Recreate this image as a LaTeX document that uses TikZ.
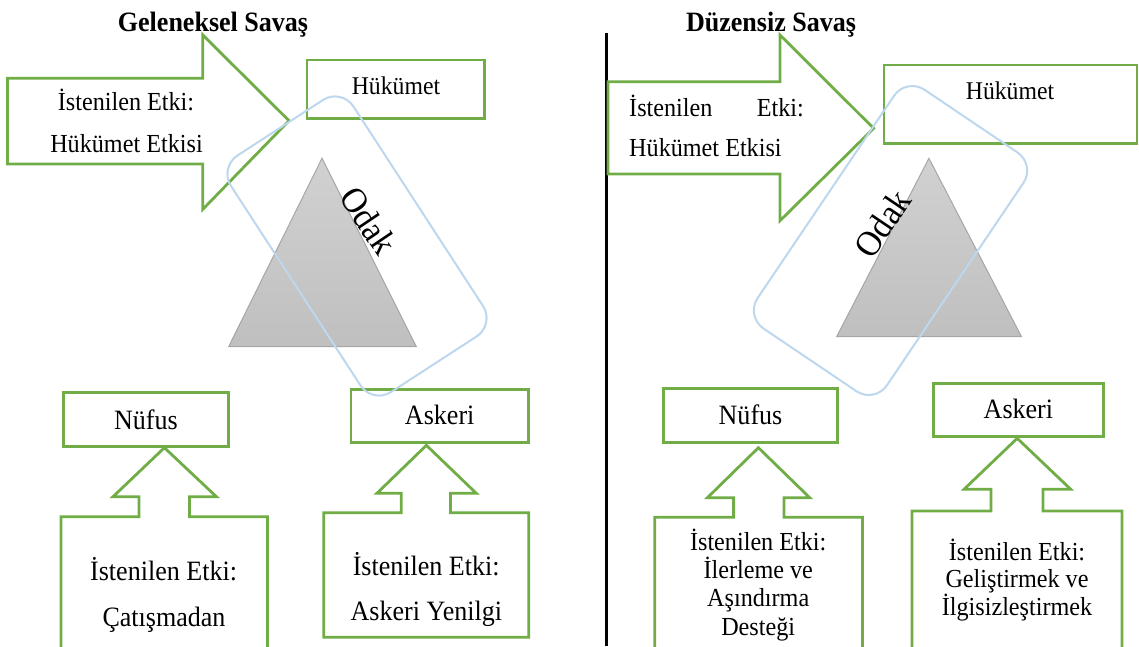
\documentclass[tikz,border=0pt]{standalone}
\usepackage{fontspec}
\setmainfont{Liberation Serif}[FakeStretch=0.93]
\definecolor{gr}{HTML}{70AD47}
\definecolor{bl}{HTML}{BDD7EE}
\tikzset{
  gline/.style={draw=gr, line width=2.8pt, line join=miter},
  gbox/.style={gline, inner sep=0pt, outer sep=0pt},
  brect/.style={draw=bl, line width=2pt, rounded corners=22pt, inner sep=0pt},
  tri/.style={draw=black!35, line width=1pt, top color=black!18, bottom color=black!25},
  lbl/.style={inner sep=0pt, anchor=base, font=\fontsize{26}{28}\selectfont},
  lblL/.style={inner sep=0pt, anchor=base, font=\fontsize{28}{30}\selectfont},
  ttl/.style={inner sep=0pt, anchor=base, font=\bfseries\fontsize{28}{30}\selectfont},
  odak/.style={inner sep=0pt, font=\fontsize{36}{36}\selectfont}
}
\begin{document}
\begin{tikzpicture}[x=1pt,y=-1pt]
\useasboundingbox (0,0) rectangle (1139,646);
% divider
\coordinate (dT) at (606,33);
\coordinate (dB) at (606,646);
\draw[line width=3pt] (dT) -- (dB);

% ---------- left panel ----------
\draw[gline] (7.5,78.3) -- (202.8,78.3) -- (202.8,35) -- (289,120.7) -- (202.8,209.3) -- (202.8,164) -- (7.5,164) -- cycle;
\node[gbox, minimum width=177.6, minimum height=58.3] (hukL) at (395.8,89.2) {};
\node[gbox, minimum width=165, minimum height=54] (nufL) at (146,419.7) {};
\node[gbox, minimum width=177.7, minimum height=53.4] (askL) at (439.8,416) {};
\draw[gline] (61,660) -- (61,516.7) -- (139,516.7) -- (139,496.7) -- (113,496.7) -- (164.4,447.7) -- (216.4,496.7) -- (189.5,496.7) -- (189.5,516.7) -- (267.4,516.7) -- (267.4,660);
\draw[gline] (323.8,637.3) -- (323.8,512.7) -- (401.3,512.7) -- (401.3,493.3) -- (376.9,493.3) -- (426.4,445.3) -- (476.3,493.3) -- (450.5,493.3) -- (450.5,512.7) -- (528.7,512.7) -- (528.7,637.3) -- cycle;
\shade[tri] (322,158.3) -- (228.6,346.7) -- (416.4,346.7) -- cycle;
\node[brect, minimum width=282, minimum height=146, rotate=-57] (focL) at (357,246) {};

\node[ttl] (titL) at (213,31.7) {Geleneksel Savaş};
\node[lbl] (aL1) at (126,110) {İstenilen Etki:};
\node[lbl] (aL2) at (126.5,152.7) {Hükümet Etkisi};
\node[lbl, font=\fontsize{25.5}{28}\selectfont] (hukLt) at (396,94.3) {Hükümet};
\node[odak, rotate=-56] (odL) at (368.6,220.7) {Odak};
\node[lblL] (nufLt) at (146,429.3) {Nüfus};
\node[lblL] (askLt) at (439.7,424.3) {Askeri};
\node[lblL] (bL1) at (163.6,580) {İstenilen Etki:};
\node[lblL] (bL2) at (164,626) {Çatışmadan};
\node[lblL] (cL1) at (426.2,575) {İstenilen Etki:};
\node[lblL] (cL2) at (426.4,620.7) {Askeri Yenilgi};

% ---------- right panel ----------
\draw[gline] (608,81.7) -- (780,81.7) -- (780,35) -- (873.6,128.3) -- (780,220.7) -- (780,174) -- (608,174) -- cycle;
\node[gbox, minimum width=253, minimum height=78.3] (hukR) at (1010.5,104.2) {};
\node[gbox, minimum width=174, minimum height=54.4] (nufR) at (750.6,415.5) {};
\node[gbox, minimum width=169.7, minimum height=53.4] (askR) at (1018.4,410) {};
\draw[gline] (654.7,660) -- (654.7,517.3) -- (733.6,517.3) -- (733.6,497.7) -- (707.4,497.7) -- (758.4,447.7) -- (809.7,497.7) -- (783.9,497.7) -- (783.9,517.3) -- (862.5,517.3) -- (862.5,660);
\draw[gline] (912,660) -- (912,511) -- (991,511) -- (991,489.3) -- (964,489.3) -- (1017.2,438.3) -- (1070.7,489.3) -- (1043,489.3) -- (1043,511) -- (1122,511) -- (1122,660);
\shade[tri] (928.9,158.3) -- (836.6,336.7) -- (1021.5,336.7) -- cycle;
\node[brect, minimum width=288, minimum height=156, rotate=56] (focR) at (890.5,240.5) {};

\node[ttl] (titR) at (771,31.7) {Düzensiz Savaş};
\node[lbl, anchor=base west] (aR1a) at (629,116) {İstenilen};
\node[lbl, anchor=base east] (aR1b) at (804,116) {Etki:};
\node[lbl, anchor=base west] (aR2) at (629,156.7) {Hükümet Etkisi};
\node[lbl, font=\fontsize{25.5}{28}\selectfont] (hukRt) at (1010,99.3) {Hükümet};
\node[odak, rotate=56] (odR) at (882.2,223.3) {Odak};
\node[lblL] (nufRt) at (750.5,424.3) {Nüfus};
\node[lblL] (askRt) at (1018.4,418.3) {Askeri};
\node[lbl] (bR1) at (758.2,550) {İstenilen Etki:};
\node[lbl] (bR2) at (758.2,578.3) {İlerleme ve};
\node[lbl] (bR3) at (758.2,606) {Aşındırma};
\node[lbl] (bR4) at (758.2,635) {Desteği};
\node[lbl] (cR1) at (1017,560) {İstenilen Etki:};
\node[lbl] (cR2) at (1017,587.3) {Geliştirmek ve};
\node[lbl] (cR3) at (1017,615) {İlgisizleştirmek};
\end{tikzpicture}
\end{document}
